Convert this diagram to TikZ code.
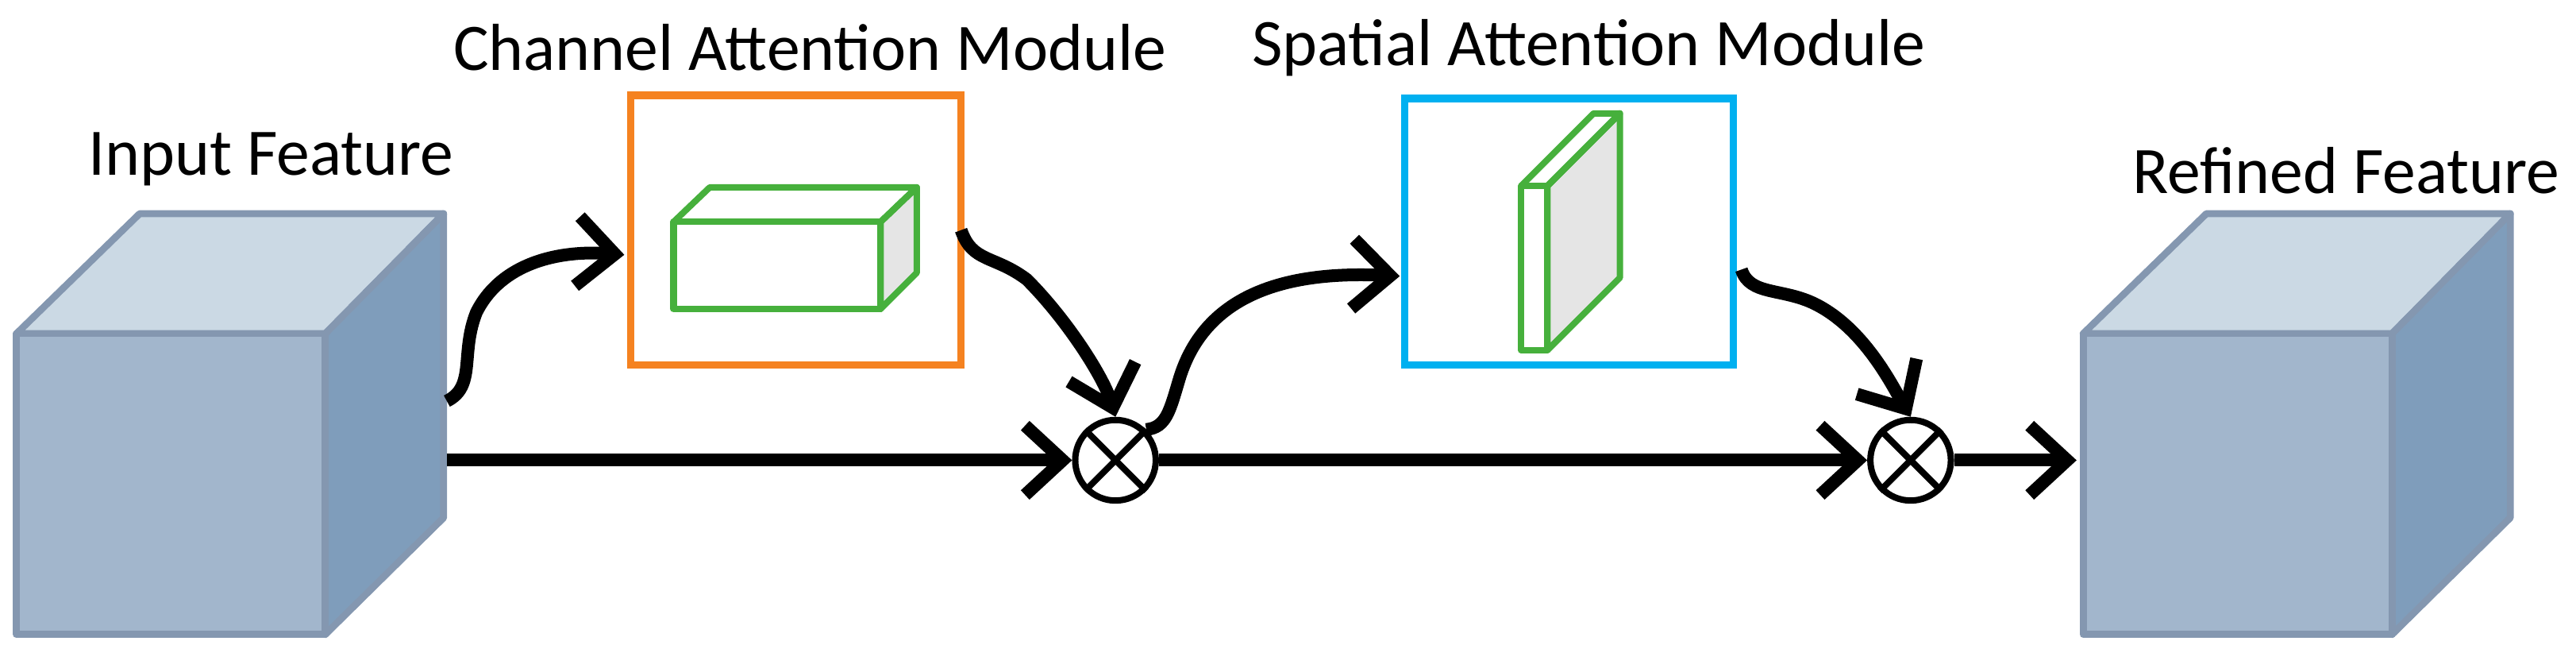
\documentclass[tikz,border=0pt]{standalone}
\usepackage{fontspec}
\setmainfont{Carlito}
\usetikzlibrary{arrows.meta}
\definecolor{cfront}{HTML}{A2B6CC}
\definecolor{ctop}{HTML}{CBD9E4}
\definecolor{cside}{HTML}{7F9DBB}
\definecolor{cedge}{HTML}{8497B0}
\definecolor{corange}{HTML}{F58220}
\definecolor{cblue}{HTML}{00B0F0}
\definecolor{cgreen}{HTML}{46B03C}
\begin{document}
\begin{tikzpicture}[x=0.01cm,y=-0.01cm,
  lbl/.style={font=\fontsize{11.5}{13}\selectfont,inner sep=0},
  cube/.style={draw=cedge,line width=1.2pt,line join=round},
  gr/.style={draw=cgreen,line width=1.1pt,line join=round},
  flow/.style={line width=2.2pt,-{Straight Barb[length=6.5pt,width=12pt,line width=2.2pt]}},
  op/.style={circle,draw,line width=1.1pt,minimum size=0.49cm,inner sep=0}]
\useasboundingbox (0,0) rectangle (1568,406);
% input cube
\filldraw[cube,fill=ctop] (10,203) -- (85,130) -- (270,130) -- (198,203) -- cycle;
\filldraw[cube,fill=cside] (198,203) -- (270,130) -- (270,315) -- (198,386) -- cycle;
\filldraw[cube,fill=cfront] (10,203) rectangle (198,386);
\node[lbl] (inl) at (165,97) {Input Feature};
\coordinate (inA) at (272,244);
\coordinate (inB) at (272,280);
% refined cube
\filldraw[cube,fill=ctop] (1268,203) -- (1343,130) -- (1528,130) -- (1456,203) -- cycle;
\filldraw[cube,fill=cside] (1456,203) -- (1528,130) -- (1528,315) -- (1456,386) -- cycle;
\filldraw[cube,fill=cfront] (1268,203) rectangle (1456,386);
\node[lbl] (outl) at (1428,104) {Refined Feature};
\coordinate (outA) at (1264,280);
% channel module
\draw[corange,line width=1.3pt] (384,58) rectangle (585,222);
\node[lbl] (caml) at (493,29) {Channel Attention Module};
\filldraw[gr,fill=gray!20] (536,135) -- (558,114) -- (558,166) -- (536,188) -- cycle;
\draw[gr] (410,135) -- (432,114) -- (558,114) -- (536,135);
\draw[gr] (410,135) rectangle (536,188);
% spatial module
\draw[cblue,line width=1.3pt] (855,60) rectangle (1055,222);
\node[lbl] (saml) at (967,29) {Spatial Attention Module};
\filldraw[gr,fill=gray!20] (942,113) -- (986,69) -- (986,169) -- (942,213) -- cycle;
\draw[gr] (926,113) -- (970,69) -- (986,69) -- (942,113);
\draw[gr] (926,113) rectangle (942,213);
% multipliers
\node[op] (m1) at (679,280) {};
\draw[line width=1.1pt] (m1.north west) -- (m1.south east) (m1.north east) -- (m1.south west);
\node[op] (m2) at (1163,280) {};
\draw[line width=1.1pt] (m2.north west) -- (m2.south east) (m2.north east) -- (m2.south west);
% connectors
\draw[flow] (inB) -- (m1.west);
\draw[flow] (m1.east) -- (m2.west);
\draw[flow] (m2.east) -- (outA);
\draw[flow] (inA) .. controls (290,235) and (280,215) .. (290,190) .. controls (305,160) and (340,152) .. (380,155);
\draw[flow] (585,140) .. controls (592,160) and (605,155) .. (625,170) .. controls (650,195) and (672,230) .. (m1.north);
\draw[flow] (m1.north east) .. controls (710,260) and (712,250) .. (718,230) .. controls (735,175) and (790,165) .. (852,168);
\draw[flow] (1060,164) .. controls (1065,180) and (1085,175) .. (1105,185) .. controls (1135,200) and (1152,235) .. (m2.north);
\end{tikzpicture}
\end{document}
